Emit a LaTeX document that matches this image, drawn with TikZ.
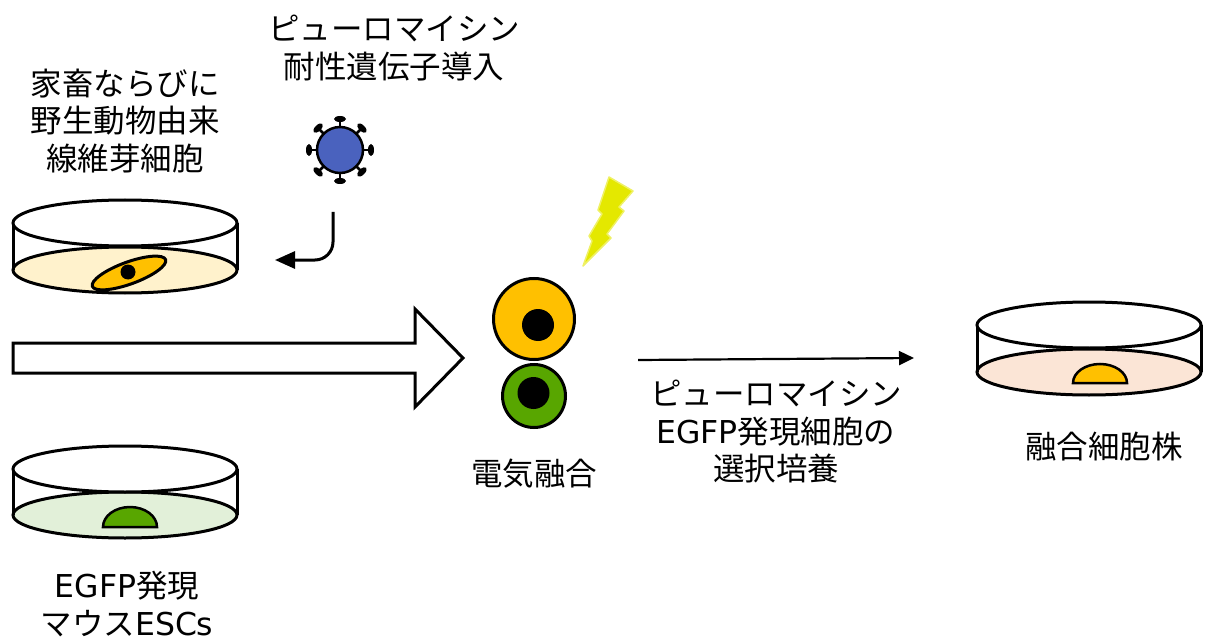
\documentclass[tikz,border=0pt]{standalone}
\usepackage{fontspec}
\setmainfont{Noto Sans CJK JP}
\newfontfamily\latfnt{DejaVu Sans}
\usetikzlibrary{arrows.meta,shapes.geometric}

\definecolor{dishyellow}{RGB}{255,242,204}
\definecolor{dishgreen}{RGB}{226,240,217}
\definecolor{dishpink}{RGB}{251,229,214}
\definecolor{cellorange}{RGB}{255,192,0}
\definecolor{cellgreen}{RGB}{88,166,0}
\definecolor{virusblue}{RGB}{74,98,190}
\definecolor{boltyellow}{RGB}{228,232,0}

\tikzset{
  outline/.style={draw=black, line width=3},
  label/.style={align=center, inner sep=0pt, font=\fontsize{31.5}{37.5}\selectfont},
  flowarrow/.style={line width=2.2, -{Triangle[length=15, width=14]}},
  bentarrow/.style={line width=3, rounded corners=18, -{Triangle[length=20, width=17]}},
  nucleus/.style={circle, fill=black, inner sep=0pt, minimum size=32},
}

% petri dish: centre x, lid y, base y, medium colour
\newcommand\petridish[4]{%
  \draw[outline, fill=#4] (#1,#3) ellipse [x radius=112, y radius=23];
  \draw[outline] ({#1-112},#2) -- ({#1-112},#3) ({#1+112},#2) -- ({#1+112},#3);
  \draw[outline, fill=white] (#1,#2) ellipse [x radius=112, y radius=23];
}

\begin{document}
\begin{tikzpicture}[x=1pt, y=-1pt]
\useasboundingbox (0,0) rectangle (1209,644);

% ---- fibroblast dish ----
\petridish{125}{223}{270}{dishyellow}
\node[ellipse, outline, fill=cellorange, minimum width=78, minimum height=22,
      inner sep=0pt, rotate=20] (fibro) at (129,273) {};
\node[circle, fill=black, inner sep=0pt, minimum size=15] (fibronuc) at (128,272) {};
\node[label] (srcLabel) at (125,121) {家畜ならびに\\野生動物由来\\線維芽細胞};

% ---- ES cell dish ----
\petridish{125}{469}{515}{dishgreen}
\draw[line width=2.5, fill=cellgreen] (103,527) arc[start angle=180, end angle=360, x radius=27, y radius=20] -- cycle;
\node[label] (escLabel) at (127,604) {{\latfnt EGFP}発現\\マウス{\latfnt ESCs}};

% ---- hybrid dish ----
\petridish{1089}{325}{372}{dishpink}
\draw[line width=2.5, fill=cellorange] (1073,383) arc[start angle=180, end angle=360, x radius=27, y radius=19] -- cycle;
\node[label] (hybridLabel) at (1104,447) {融合細胞株};

% ---- viral vector ----
\node[label] (puroLabel) at (394,48) {ピューロマイシン\\耐性遺伝子導入};
\node[circle, draw=black, line width=2.5, fill=virusblue, minimum size=46, inner sep=0pt] (virus) at (340,150) {};
\foreach \a in {0,45,...,315}{
  \draw[line width=2.5] (virus.center) ++(\a:23) -- ++(\a:8);
  \path (virus.center) ++(\a:31) node[ellipse, fill=black, inner sep=0pt,
        minimum width=12, minimum height=6, rotate=90-\a] {};
}
\coordinate (virusTail) at (333,212);
\coordinate (dishEntry) at (275,260);
\draw[bentarrow] (virusTail) |- (dishEntry);

% ---- block arrow into fusion ----
\draw[outline, fill=white] (13,343) -- (415,343) -- (415,309) -- (463,358)
  -- (415,407) -- (415,373) -- (13,373) -- cycle;

% ---- electrofusion ----
\node[circle, outline, fill=cellorange, minimum size=81, inner sep=0pt] (fibroCell) at (534,319) {};
\node[nucleus] (fibroCellNuc) at (538,325) {};
\node[circle, outline, fill=cellgreen, minimum size=63, inner sep=0pt] (esCell) at (534,396) {};
\node[nucleus] (esCellNuc) at (533.5,393) {};
\node[label] (fuseLabel) at (534,474) {電気融合};

% lightning bolt
\path[fill=boltyellow, draw=boltyellow!60, line width=1.5, line join=round]
  (609,177) -- (633,191) -- (619,207) -- (624,211) -- (607,234) -- (611,238)
  -- (583,266) -- (592,241) -- (589,236) -- (602,214) -- (598,210) -- cycle;

% ---- selection ----
\coordinate (selStart) at (638,360);
\coordinate (selEnd) at (914,358);
\draw[flowarrow] (selStart) -- (selEnd);
\node[label] (selLabel) at (776,432) {ピューロマイシン\\{\latfnt EGFP}発現細胞の\\選択培養};

\end{tikzpicture}
\end{document}
